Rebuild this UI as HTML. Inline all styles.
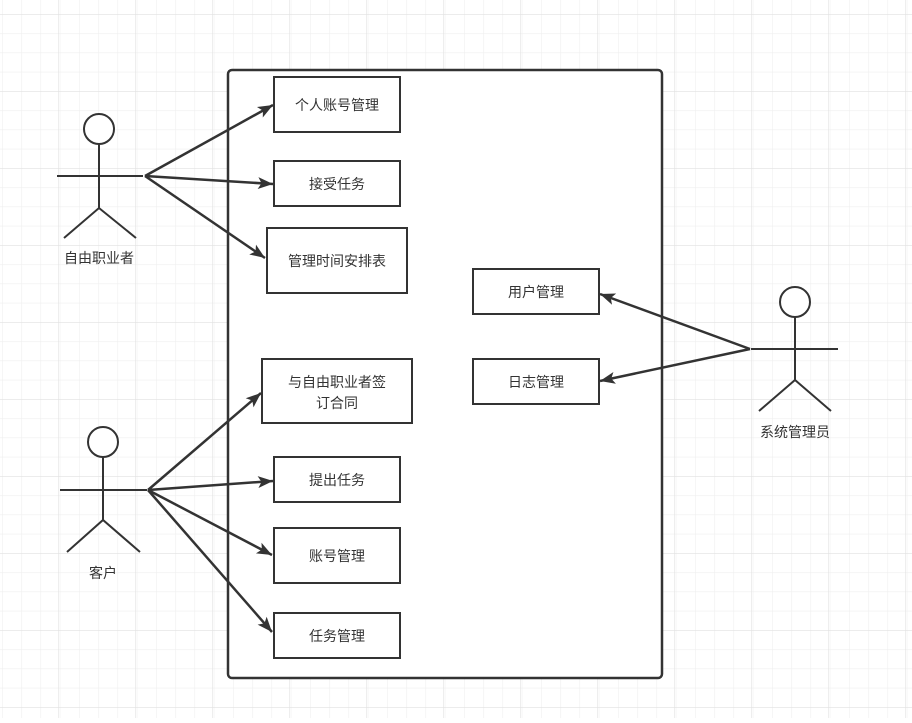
<!DOCTYPE html>
<html><head><meta charset="utf-8"><style>
body{margin:0;background:#fff;}
svg text{font-family:"Liberation Sans","Noto Sans CJK SC",sans-serif;font-size:14px;fill:#333;text-anchor:middle;}
</style></head><body>
<svg width="912" height="718" viewBox="0 0 912 718" xmlns="http://www.w3.org/2000/svg">
<defs>
<pattern id="g" x="2" y="14" width="19.25" height="19.25" patternUnits="userSpaceOnUse">
<path d="M0 0H19.25M0 0V19.25" stroke="#efefef" stroke-width="1.2" fill="none"/>
</pattern>
<pattern id="G" x="58" y="14" width="77" height="77" patternUnits="userSpaceOnUse">
<path d="M0 0H77M0 0V77" stroke="#e2e2e2" stroke-width="1.2" fill="none"/>
</pattern>
<marker id="a" markerWidth="16" markerHeight="14" refX="15" refY="6" orient="auto" markerUnits="userSpaceOnUse" viewBox="0 0 16 12">
<path d="M0,0 L15,6 L0,12 L3.5,6 Z" fill="#333"/>
</marker>
</defs>
<rect width="912" height="718" fill="url(#g)"/>
<rect width="912" height="718" fill="url(#G)"/>
<rect x="228" y="70" width="434" height="608" rx="4" fill="#fff" stroke="#333" stroke-width="2.5"/>
<g fill="#fff" stroke="#333" stroke-width="2">
<rect x="274" y="77" width="126" height="55"/>
<rect x="274" y="161" width="126" height="45"/>
<rect x="267" y="228" width="140" height="65"/>
<rect x="473" y="269" width="126" height="45"/>
<rect x="473" y="359" width="126" height="45"/>
<rect x="262" y="359" width="150" height="64"/>
<rect x="274" y="457" width="126" height="45"/>
<rect x="274" y="528" width="126" height="55"/>
<rect x="274" y="613" width="126" height="45"/>
</g>
<text x="337" y="110">个人账号管理</text>
<text x="337" y="189">接受任务</text>
<text x="337" y="266">管理时间安排表</text>
<text x="536" y="297">用户管理</text>
<text x="536" y="387">日志管理</text>
<text x="337" y="387">与自由职业者签</text>
<text x="337" y="408">订合同</text>
<text x="337" y="485">提出任务</text>
<text x="337" y="561">账号管理</text>
<text x="337" y="641">任务管理</text>
<g stroke="#333" stroke-width="2" fill="none">
<circle cx="99" cy="129" r="15" fill="#fff"/>
<path d="M99 144V208M57 176H143M64 238L99 208L136 238"/>
<circle cx="103" cy="442" r="15" fill="#fff"/>
<path d="M103 457V520M60 490H147M67 552L103 520L140 552"/>
<circle cx="795" cy="302" r="15" fill="#fff"/>
<path d="M795 317V380M751 349H838M759 411L795 380L831 411"/>
</g>
<text x="99" y="263">自由职业者</text>
<text x="103" y="578">客户</text>
<text x="795" y="437">系统管理员</text>
<g stroke="#333" stroke-width="2.5" fill="none" marker-end="url(#a)">
<line x1="145" y1="176" x2="273" y2="105"/>
<line x1="145" y1="176" x2="273" y2="184"/>
<line x1="145" y1="176" x2="265" y2="258"/>
<line x1="148" y1="490" x2="261" y2="393"/>
<line x1="148" y1="490" x2="273" y2="481"/>
<line x1="148" y1="490" x2="272" y2="555"/>
<line x1="148" y1="490" x2="272" y2="632"/>
<line x1="750" y1="349" x2="600" y2="294"/>
<line x1="750" y1="349" x2="600" y2="381"/>
</g>
</svg>
</body></html>
